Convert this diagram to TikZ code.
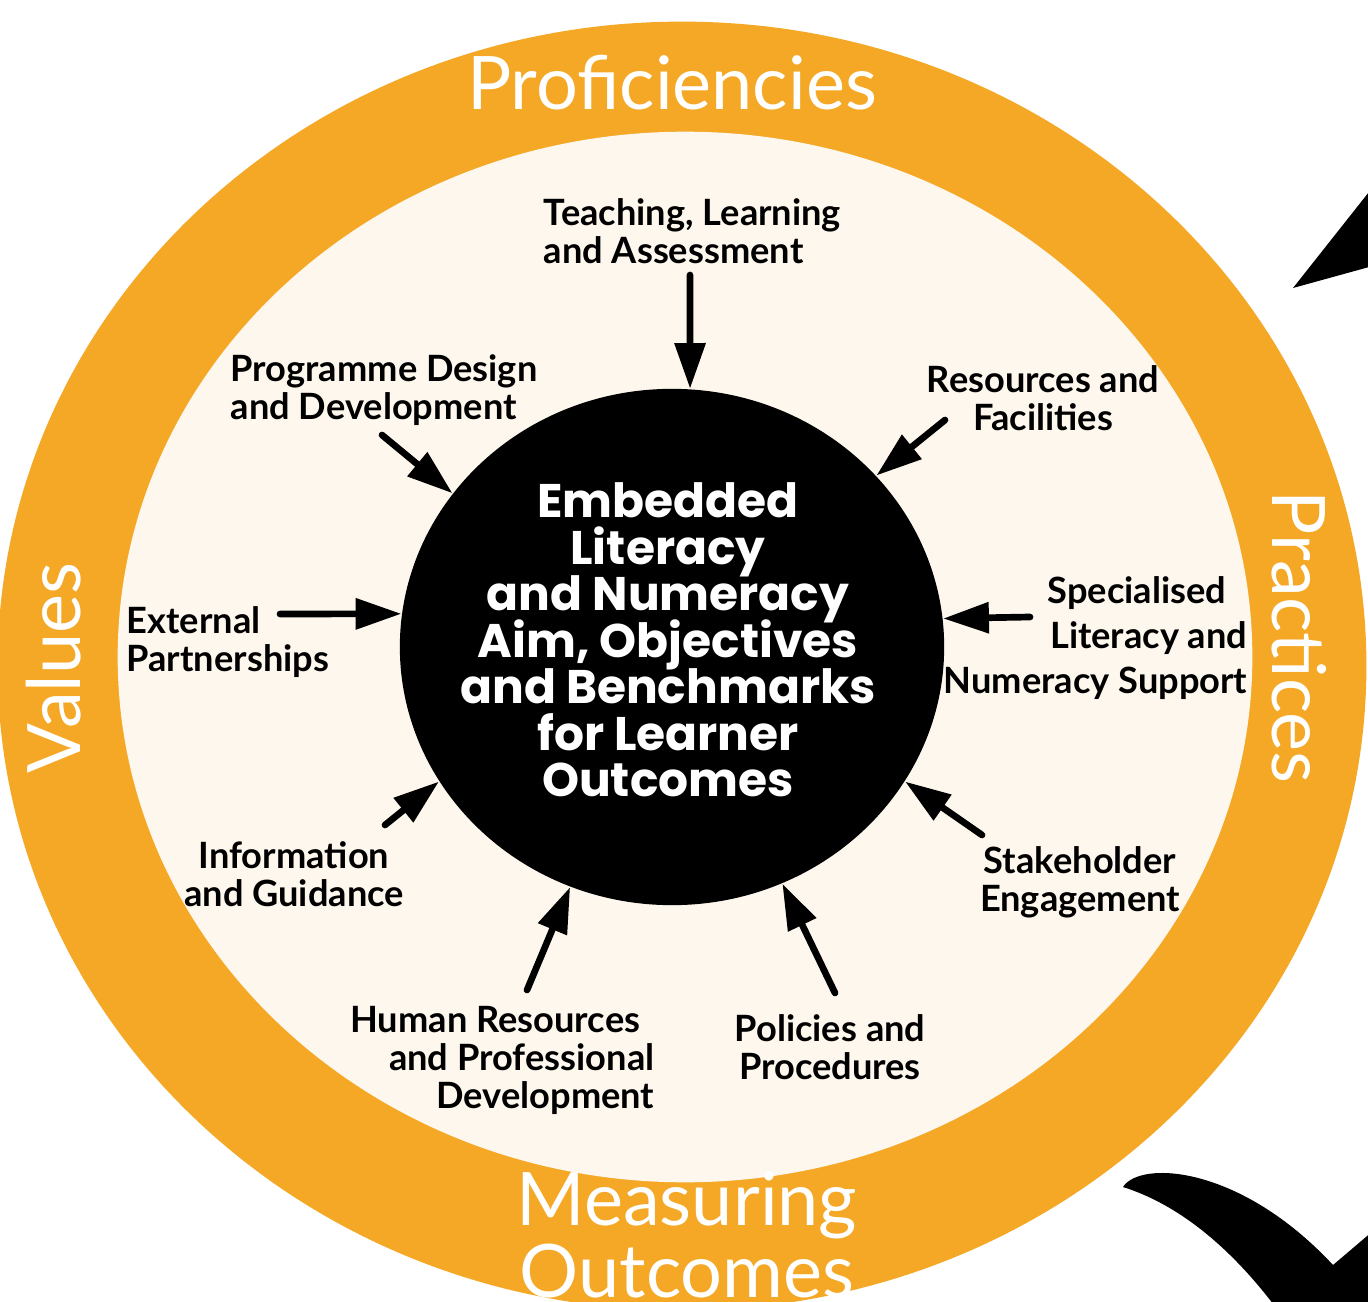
\documentclass[tikz,border=0pt]{standalone}
\usepackage{fontspec}
\usetikzlibrary{shapes.geometric,arrows.meta}
\newfontfamily\latofont{Lato}
\newfontfamily\popfont{Poppins}
\newcommand\aimfont{\popfont\bfseries\fontsize{13.4}{13.2}\selectfont\lineskiplimit=-20pt\relax}
\definecolor{ringorange}{RGB}{245,168,38}
\definecolor{cream}{RGB}{253,247,237}

\begin{document}
\begin{tikzpicture}[x=0.01cm, y=-0.01cm,
  ring/.style={text=white, font=\latofont\fontsize{21}{22}\selectfont, inner sep=0pt, anchor=base},
  lbl/.style={text=black, font=\latofont\bfseries\fontsize{10.3}{10.8}\selectfont, inner sep=0pt},
  feed/.style={line width=1.9pt, line cap=round, -{Triangle[length=13pt,width=8.5pt]}}]
  \useasboundingbox (0,0) rectangle (1368,1301);
  \clip (0,0) rectangle (1368,1301);
  \fill[white] (0,0) rectangle (1368,1301);
  % rings
  \fill[ringorange] (682,666) ellipse [x radius=6.84cm, y radius=6.44cm];
  \fill[cream] (685,657) ellipse [x radius=5.67cm, y radius=5.25cm];
  \node[ring] (prof) at (672,110) {Proficiencies};
  \node[ring, rotate=90] (val) at (80,668) {Values};
  \node[ring, rotate=-90] (prac) at (1272,637) {Practices};
  \node[ring] (meas) at (687,1225) {Measuring};
  \node[ring] (outc) at (687,1297) {Outcomes};
  % centre
  \node[ellipse, fill=black, minimum width=5.44cm, minimum height=5.16cm, inner sep=0pt] (core) at (672,647) {};
  \node[text=white, align=center, inner sep=0pt, font=\aimfont]
    (aim) at (668,640) {Embedded\\Literacy\\and Numeracy\\Aim, Objectives\\and Benchmarks\\for Learner\\Outcomes};
  % labels
  \node[lbl, align=left, anchor=north west] (teach) at (543,198) {Teaching, Learning\\and Assessment};
  \node[lbl, align=center, anchor=north] (res) at (1043,365) {Resources and\\Facilities};
  \node[lbl, align=left, anchor=north west] (prog) at (230,354) {Programme Design\\and Development};
  \node[lbl, align=left, anchor=north west] (ext) at (126,606) {External\\Partnerships};
  \node[lbl, align=right, anchor=north east, font=\latofont\bfseries\fontsize{10.3}{12.8}\selectfont] (spec) at (1248,576) {Specialised\hspace*{6pt}\\Literacy and\\Numeracy Support};
  \node[lbl, align=center, anchor=north] (info) at (294,841) {Information\\and Guidance};
  \node[lbl, align=center, anchor=north] (stake) at (1080,846) {Stakeholder\\Engagement};
  \node[lbl, align=right, anchor=north east] (hum) at (655,1006) {Human Resources\hspace*{4pt}\\and Professional\\Development};
  \node[lbl, align=center, anchor=north] (pol) at (830,1014) {Policies and\\Procedures};
  % arrow tails
  \coordinate (tTeach) at (690,275);
  \coordinate (tRes) at (945,420);
  \coordinate (tProg) at (382,435);
  \coordinate (tExt) at (280,614);
  \coordinate (tSpec) at (1030,617);
  \coordinate (tInfo) at (385,825);
  \coordinate (tStake) at (982,835);
  \coordinate (tHum) at (527,990);
  \coordinate (tPol) at (835,993);
  % Draw the arrows into the centre
  \draw[feed] (tTeach) -- (core.86);
  \draw[feed] (tRes) -- (core.40);
  \draw[feed] (tProg) -- (core.145);
  \draw[feed] (tExt) -- (core.173);
  \draw[feed] (tSpec) -- (core.6);
  \draw[feed] (tInfo) -- (core.210);
  \draw[feed] (tStake) -- (core.330);
  \draw[feed] (tHum) -- (core.247);
  \draw[feed] (tPol) -- (core.295);
  % cut-off arrows at the right edge
  \fill[black] (1293,288) -- (1380,178) -- (1380,264) -- cycle;
  \fill[black] (1123,1187) .. controls (1140,1160) and (1240,1165) .. (1333,1265) -- (1380,1225) -- (1380,1320)
    -- (1285,1320) .. controls (1235,1250) and (1180,1205) .. (1123,1187) -- cycle;
\end{tikzpicture}
\end{document}
